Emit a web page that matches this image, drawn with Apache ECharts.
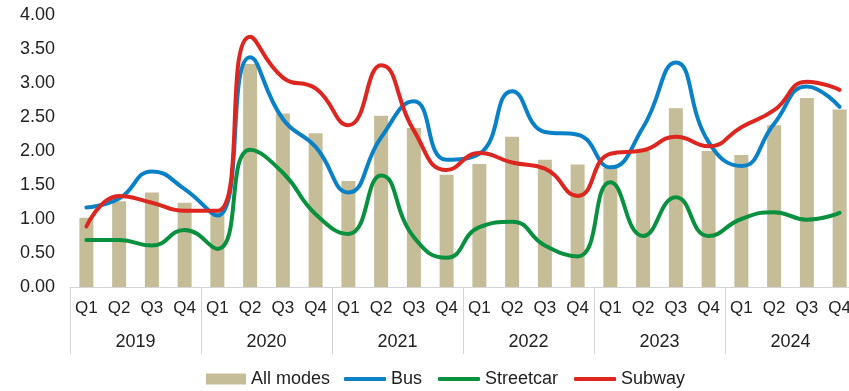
<!DOCTYPE html>
<html><head><meta charset="utf-8">
<script src="https://cdn.jsdelivr.net/npm/echarts@6/dist/echarts.min.js"></script>
<style>html,body{margin:0;padding:0;background:#fff;overflow:hidden}#c{width:849px;height:391px}</style>
</head><body><div id="c"></div>
<script>
const quarters = ['Q1','Q2','Q3','Q4','Q1','Q2','Q3','Q4','Q1','Q2','Q3','Q4','Q1','Q2','Q3','Q4','Q1','Q2','Q3','Q4','Q1','Q2','Q3','Q4'];
const years = ['2019','2020','2021','2022','2023','2024'];
const allModes = [1.02,1.26,1.39,1.24, 1.11,3.28,2.55,2.26, 1.56,2.52,2.34,1.65, 1.81,2.21,1.87,1.80, 1.75,2.00,2.63,2.00, 1.94,2.38,2.78,2.61];
const bus      = [1.17,1.30,1.70,1.44, 1.05,3.38,2.47,2.06, 1.39,2.20,2.73,1.87, 1.96,2.88,2.28,2.24, 1.76,2.35,3.30,2.13, 1.78,2.40,2.95,2.65];
const streetcar= [0.69,0.69,0.61,0.84, 0.56,2.02,1.68,1.07, 0.78,1.64,0.73,0.43, 0.88,0.96,0.61,0.45, 1.54,0.75,1.32,0.75, 1.00,1.10,0.99,1.09];
const subway   = [0.89,1.34,1.24,1.12, 1.12,3.68,3.08,2.92, 2.38,3.26,2.30,1.72, 1.97,1.83,1.74,1.34, 1.96,2.01,2.21,2.07, 2.35,2.60,3.02,2.90];
const yTicks = {min:0, max:4, interval:0.5};

const chart = echarts.init(document.getElementById('c'));
const font = 'Liberation Sans, Arial, sans-serif';
const lineSeries = (name, data, color) => ({
  name, type:'line', data, smooth:0.5, symbol:'none', showSymbol:false,
  lineStyle:{width:4, color, cap:'round'}, itemStyle:{color}, z:3
});
const legendText = {fontFamily:font, fontSize:18, color:'#222'};
chart.setOption({
  animation:false,
  textStyle:{fontFamily:font},
  grid:{left:70, width:786, top:15, height:272, containLabel:false, outerBoundsMode:'none'},
  legend:[
    {left:206, top:370, padding:0, itemWidth:40, itemHeight:11, textStyle:legendText,
     data:[{name:'All modes', icon:'rect'}]},
    {left:344, top:370, padding:0, itemWidth:42, itemHeight:4, itemGap:16, textStyle:legendText,
     data:[{name:'Bus', icon:'roundRect'}, {name:'Streetcar', icon:'roundRect'}, {name:'Subway', icon:'roundRect'}]}
  ],
  xAxis:[
    {type:'category', data:quarters, position:'bottom',
     axisLine:{show:true, lineStyle:{color:'#d4d4d4', width:1}},
     axisTick:{show:false},
     axisLabel:{fontFamily:font, fontSize:17, color:'#222', margin:13, interval:0}},
    {type:'category', data:years, position:'bottom', offset:0,
     axisLine:{show:false},
     axisTick:{show:true, length:67, lineStyle:{color:'#d4d4d4'}},
     axisLabel:{fontFamily:font, fontSize:18, color:'#222', margin:46}}
  ],
  yAxis:{type:'value', min:yTicks.min, max:yTicks.max, interval:yTicks.interval,
    axisLine:{show:false}, axisTick:{show:false}, splitLine:{show:false},
    axisLabel:{fontFamily:font, fontSize:18, color:'#222', margin:15, formatter:v=>v.toFixed(2)}},
  series:[
    {name:'All modes', type:'bar', data:allModes, barWidth:14, itemStyle:{color:'#C5BD98'}, z:2},
    lineSeries('Bus', bus, '#0A80C6'),
    lineSeries('Streetcar', streetcar, '#0A913F'),
    lineSeries('Subway', subway, '#DE2620')
  ]
});
</script></body></html>
